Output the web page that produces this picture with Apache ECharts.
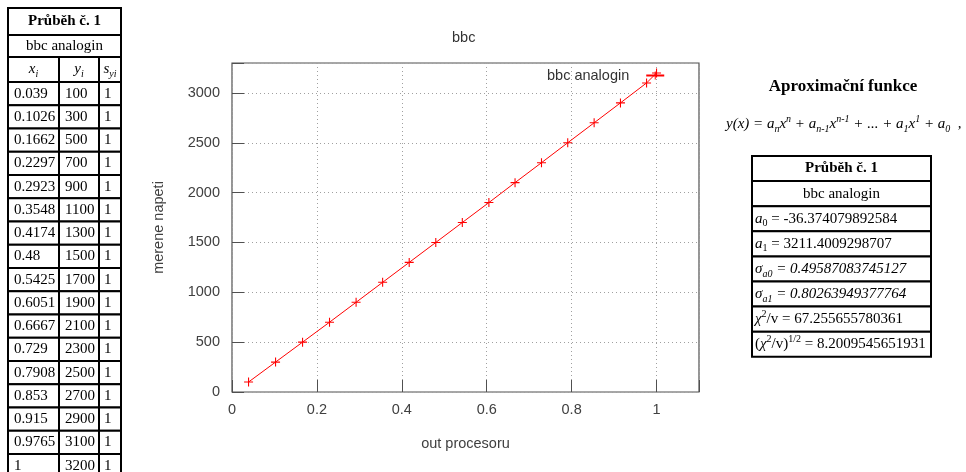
<!DOCTYPE html>
<html>
<head>
<meta charset="utf-8">
<script src="https://cdn.jsdelivr.net/npm/echarts@6/dist/echarts.min.js"></script>
<style>
  html, body { margin: 0; background: #fff; }
  #chart { width: 966px; height: 472px; }
</style>
</head>
<body>
<div id="chart"></div>
<script>
// measured data (Průběh č. 1)
const xi = [0.039, 0.1026, 0.1662, 0.2297, 0.2923, 0.3548, 0.4174, 0.48, 0.5425,
  0.6051, 0.6667, 0.729, 0.7908, 0.853, 0.915, 0.9765, 1]
const yi = [100, 300, 500, 700, 900, 1100, 1300, 1500, 1700,
  1900, 2100, 2300, 2500, 2700, 2900, 3100, 3200]
const syi = [1, 1, 1, 1, 1, 1, 1, 1, 1, 1, 1, 1, 1, 1, 1, 1, 1]
const seriesName = 'bbc analogin'
const tableTitle = 'Průběh č. 1'
// fit results: a0, a1, sigma a0, sigma a1, chi2/v, sqrt(chi2/v)
const fitValues = ['-36.374079892584', '3211.4009298707', '0.49587083745127',
  '0.80263949377764', '67.255655780361', '8.2009545651931']

const serif = "'Liberation Serif', 'Times New Roman', serif"
const sans = "'Liberation Sans', Arial, sans-serif"
const cross = 'path://M4.4,0H5.6V4.4H10V5.6H5.6V10H4.4V5.6H0V4.4H4.4Z'

const rich = {
  n: { fontFamily: serif, fontSize: 15, lineHeight: 20 },
  i: { fontFamily: serif, fontSize: 15, fontStyle: 'italic', lineHeight: 20 },
  b: { fontFamily: serif, fontSize: 15, fontWeight: 'bold', lineHeight: 20 },
  sb: { fontFamily: serif, fontSize: 10, lineHeight: 10, verticalAlign: 'bottom' },
  sbi: { fontFamily: serif, fontSize: 10, fontStyle: 'italic', lineHeight: 10, verticalAlign: 'bottom' },
  sp: { fontFamily: serif, fontSize: 10, lineHeight: 10, verticalAlign: 'top' },
  spi: { fontFamily: serif, fontSize: 10, fontStyle: 'italic', lineHeight: 10, verticalAlign: 'top' }
}

function txt (x, y, text, align, extra) {
  return {
    type: 'text',
    x: x,
    y: y,
    style: Object.assign({
      text: text,
      fontFamily: serif,
      fontSize: 15,
      lineHeight: 20,
      fill: '#000',
      align: align || 'left',
      verticalAlign: 'middle',
      rich: rich
    }, extra || {})
  }
}

function cell (x0, y0, x1, y1) {
  return {
    type: 'rect',
    shape: { x: x0, y: y0, width: x1 - x0, height: y1 - y0 },
    style: { fill: '#fff', stroke: '#000', lineWidth: 2 }
  }
}

function buildTables () {
  const g = []
  // left table with the measured values
  const cols = [8, 59, 99, 121]
  const rows = [8, 35, 57, 82]
  for (let k = 1; k <= xi.length; k++) rows.push(82 + k * 23.25)
  const cx = (cols[0] + cols[3]) / 2
  g.push(cell(cols[0], rows[0], cols[3], rows[1]))
  g.push(cell(cols[0], rows[1], cols[3], rows[2]))
  for (let r = 2; r < rows.length - 1; r++) {
    for (let c = 0; c < 3; c++) g.push(cell(cols[c], rows[r], cols[c + 1], rows[r + 1]))
  }
  g.push(txt(cx, (rows[0] + rows[1]) / 2, '{b|' + tableTitle + '}', 'center'))
  g.push(txt(cx, (rows[1] + rows[2]) / 2, seriesName, 'center'))
  const hy = (rows[2] + rows[3]) / 2
  g.push(txt((cols[0] + cols[1]) / 2, hy, '{i|x}{sbi|i}', 'center'))
  g.push(txt((cols[1] + cols[2]) / 2, hy, '{i|y}{sbi|i}', 'center'))
  g.push(txt((cols[2] + cols[3]) / 2, hy, '{i|s}{sbi|yi}', 'center'))
  xi.forEach((x, k) => {
    const y = (rows[k + 3] + rows[k + 4]) / 2
    g.push(txt(cols[0] + 6, y, String(x)))
    g.push(txt(cols[1] + 6, y, String(yi[k])))
    g.push(txt(cols[2] + 5, y, String(syi[k])))
  })

  // approximation heading + formula
  g.push(txt(843, 87, 'Aproximační funkce', 'center', { fontWeight: 'bold', fontSize: 17 }))
  g.push(txt(726, 124,
    '{i|y(x) = a}{sbi|n}{i|x}{spi|n}{i| + a}{sbi|n-1}{i|x}{spi|n-1}{i| + ... + a}{sbi|1}{i|x}{spi|1}{i| + a}{sbi|0}{i|  ,}'))

  // right table with fit results
  const rx0 = 752
  const rx1 = 931
  const rr = []
  for (let k = 0; k <= 8; k++) rr.push(156 + k * 25.1)
  for (let k = 0; k < 8; k++) g.push(cell(rx0, rr[k], rx1, rr[k + 1]))
  const mid = k => (rr[k] + rr[k + 1]) / 2
  const rcx = (rx0 + rx1) / 2
  g.push(txt(rcx, mid(0), '{b|' + tableTitle + '}', 'center'))
  g.push(txt(rcx, mid(1), seriesName, 'center'))
  const lines = [
    '{i|a}{sb|0}{n| = ' + fitValues[0] + '}',
    '{i|a}{sb|1}{n| = ' + fitValues[1] + '}',
    '{i|σ}{sbi|a0}{i| = ' + fitValues[2] + '}',
    '{i|σ}{sbi|a1}{i| = ' + fitValues[3] + '}',
    '{i|χ}{sp|2}{n|/v = ' + fitValues[4] + '}',
    '{n|(}{i|χ}{sp|2}{n|/v)}{sp|1/2}{n| = ' + fitValues[5] + '}'
  ]
  lines.forEach((s, k) => g.push(txt(rx0 + 3, mid(k + 2), s)))
  return g
}

const labelStyle = () => ({ fontFamily: sans, fontSize: 14.5, color: '#404040' })
const gridLine = () => ({ show: true, lineStyle: { color: '#a0a0a0', width: 1, type: [1, 3] } })
const plain = v => String(Math.round(v * 1000) / 1000)

// gnuplot draws its tics inwards on all four sides: tick-only axes
// shifted 6px into the plot, with their (outward) ticks reaching the border
function tickAxis (position, max, interval) {
  return {
    type: 'value',
    position: position,
    offset: -6,
    min: 0,
    max: max,
    interval: interval,
    axisLine: { show: false },
    axisTick: { show: true, length: 6, lineStyle: { color: '#505050', width: 1 } },
    axisLabel: { show: false },
    splitLine: { show: false }
  }
}

const chart = echarts.init(document.getElementById('chart'))
chart.setOption({
  animation: false,
  title: {
    text: 'bbc',
    left: 452,
    top: 30,
    padding: 0,
    textStyle: { fontFamily: sans, fontSize: 14.5, fontWeight: 'normal', color: '#333' }
  },
  legend: {
    data: [seriesName],
    left: 547,
    top: 68,
    padding: 0,
    align: 'right',
    itemWidth: 18,
    itemHeight: 10,
    textStyle: { fontFamily: sans, fontSize: 14.5, color: '#333', padding: [0, 12, 0, 0] }
  },
  grid: {
    left: 232,
    right: 267,
    top: 63,
    bottom: 80,
    show: true,
    borderColor: '#505050',
    borderWidth: 1.2,
    outerBoundsMode: 'none'
  },
  xAxis: [
    {
      type: 'value',
      min: 0,
      max: 1.1,
      interval: 0.2,
      name: 'out procesoru',
      nameLocation: 'middle',
      nameGap: 44,
      nameTextStyle: labelStyle(),
      axisLine: { show: false },
      axisTick: { show: false },
      axisLabel: Object.assign({ showMaxLabel: false, margin: 10, formatter: plain }, labelStyle()),
      splitLine: gridLine()
    },
    tickAxis('bottom', 1.1, 0.2),
    tickAxis('top', 1.1, 0.2)
  ],
  yAxis: [
    {
      type: 'value',
      min: 0,
      max: 3300,
      interval: 500,
      name: 'merene napeti',
      nameLocation: 'middle',
      nameGap: 66,
      nameTextStyle: labelStyle(),
      axisLine: { show: false },
      axisTick: { show: false },
      axisLabel: Object.assign({ showMaxLabel: false, margin: 12, formatter: plain }, labelStyle()),
      splitLine: gridLine()
    },
    tickAxis('left', 3300, 500),
    tickAxis('right', 3300, 500)
  ],
  series: [
    {
      name: seriesName,
      type: 'line',
      data: xi.map((x, k) => [x, yi[k]]),
      symbol: cross,
      symbolSize: 9,
      lineStyle: { color: '#ff0000', width: 1 },
      itemStyle: { color: '#ff0000' }
    }
  ],
  graphic: buildTables()
})
</script>
</body>
</html>
